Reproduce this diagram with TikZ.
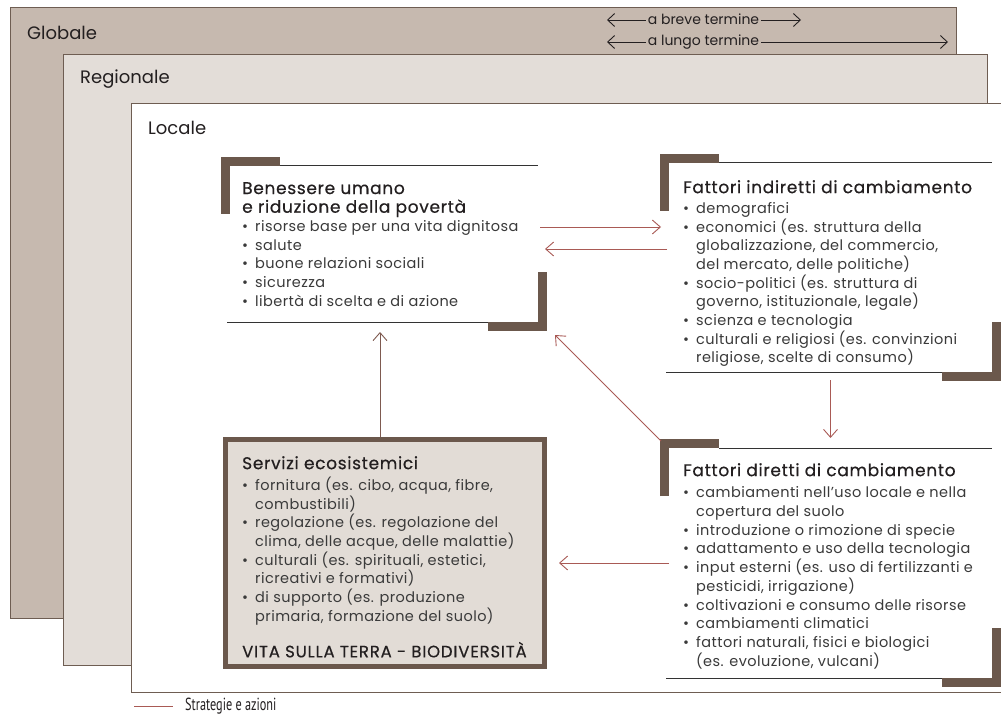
\documentclass[tikz,border=0pt]{standalone}
\usepackage{fontspec}
\setmainfont{Poppins}
\newfontfamily\bodyfont[LetterSpace=3]{Poppins}
\newfontfamily\tfont[FakeBold=0.5,LetterSpace=4]{Poppins}
\newfontfamily\capfont[FakeBold=0.5,LetterSpace=5]{Poppins}
\newfontfamily\condfont[FakeStretch=0.7]{PT Sans}
\usetikzlibrary{arrows.meta,calc}
\definecolor{globfill}{HTML}{C6B9AF}
\definecolor{regfill}{HTML}{E3DDD8}
\definecolor{serfill}{HTML}{E2DCD6}
\definecolor{frame}{HTML}{6E5D52}
\definecolor{brk}{HTML}{6B584C}
\definecolor{redc}{HTML}{A95A55}
\definecolor{brownc}{HTML}{7E5A50}
\definecolor{ink}{HTML}{231F20}
\definecolor{bodyc}{HTML}{3A3A3A}
\definecolor{rulec}{HTML}{333333}
\newcommand{\bul}{\makebox[13pt][l]{•}}
\newcommand{\cnt}{\hspace*{13pt}}
\newcommand{\ttl}[1]{{\tfont\fontsize{17}{18.7}\selectfont\color{ink}#1}}
\tikzset{
  area/.style={inner sep=0pt, outer sep=0pt},
  bracket/.style={draw=brk, line width=9pt, line cap=butt, line join=miter},
  rule/.style={draw=rulec, line width=1pt},
  redarr/.style={draw=redc, line width=0.9pt, -{Straight Barb[length=8pt,width=14pt]}},
  brownarr/.style={draw=brownc, line width=0.9pt, -{Straight Barb[length=8pt,width=14pt]}},
  legarr/.style={draw=ink, line width=0.9pt, -{Straight Barb[length=7pt,width=13pt]}},
  txt/.style={inner sep=0pt, anchor=north west, align=left, text=bodyc, font=\bodyfont\fontsize{14.5}{18.7}\selectfont},
  lvl/.style={inner sep=0pt, anchor=west, text=ink, font=\fontsize{18}{22}\selectfont},
  legtxt/.style={inner sep=2pt, text=ink, font=\fontsize{14}{16}\selectfont},
  levelbox/.style={draw=frame, line width=1pt}
}
\begin{document}
\begin{tikzpicture}[x=1pt,y=-1pt]
\useasboundingbox (0,0) rectangle (1001,714);
\fill[white] (0,0) rectangle (1001,714);
% levels
\filldraw[levelbox, fill=globfill] (10,8) rectangle (956,618);
\filldraw[levelbox, fill=regfill] (63,55) rectangle (987,665);
\filldraw[levelbox, fill=white] (131,104) rectangle (1010,692);
\node[lvl] (glob) at (27,33) {Globale};
\node[lvl] (reg) at (80,79) {Regionale};
\node[lvl] (loc) at (148,128) {Locale};
% time legend
\node[legtxt] (brv) at (703.5,19) {a breve termine};
\node[legtxt] (lng) at (703.5,42) {a lungo termine};
\coordinate (brvL) at (607,20);
\coordinate (brvR) at (801,20);
\coordinate (lngL) at (607,42);
\coordinate (lngR) at (948,42);
\draw[legarr] (brv.west |- brvL) -- (brvL);
\draw[legarr] (brv.east |- brvR) -- (brvR);
\draw[legarr] (lng.west |- lngL) -- (lngL);
\draw[legarr] (lng.east |- lngR) -- (lngR);
% areas
\node[area, minimum width=308pt, minimum height=156pt] (ben) at (384,244) {};
\node[area, minimum width=323pt, minimum height=209pt] (ind) at (830.5,267.5) {};
\node[area, minimum width=323pt, minimum height=230pt] (dir) at (830.5,563) {};
\node[area, draw=brk, line width=5pt, fill=serfill, minimum width=319pt, minimum height=227pt] (ser) at (385,553) {};
% frames of boxes
\foreach \b in {ben,ind,dir}{
  \draw[bracket] ([shift={(-4.5,48)}]\b.north west) -- ([shift={(-4.5,-4.5)}]\b.north west) -- ([shift={(50,-4.5)}]\b.north west);
  \draw[bracket] ([shift={(4.5,-50)}]\b.south east) -- ([shift={(4.5,4.5)}]\b.south east) -- ([shift={(-50,4.5)}]\b.south east);
  \draw[rule] ([shift={(50,0)}]\b.north west) -- (\b.north east);
  \draw[rule] ([shift={(-3,0)}]\b.south west) -- ([shift={(-50,0)}]\b.south east);
}
% texts
\node[txt] (bentxt) at (242,182) {\ttl{Benessere umano}\\
\ttl{e riduzione della povertà}\\
\bul risorse base per una vita dignitosa\\
\bul salute\\
\bul buone relazioni sociali\\
\bul sicurezza\\
\bul libertà di scelta e di azione};
\node[txt] (indtxt) at (683,180) {\ttl{Fattori indiretti di cambiamento}\\[1.5pt]
\bul demografici\\
\bul economici (es. struttura della\\
\cnt globalizzazione, del commercio,\\
\cnt del mercato, delle politiche)\\
\bul socio-politici (es. struttura di\\
\cnt governo, istituzionale, legale)\\
\bul scienza e tecnologia\\
\bul culturali e religiosi (es. convinzioni\\
\cnt religiose, scelte di consumo)};
\node[txt] (dirtxt) at (683,463) {\ttl{Fattori diretti di cambiamento}\\[3pt]
\bul cambiamenti nell’uso locale e nella\\
\cnt copertura del suolo\\
\bul introduzione o rimozione di specie\\
\bul adattamento e uso della tecnologia\\
\bul input esterni (es. uso di fertilizzanti e\\
\cnt pesticidi, irrigazione)\\
\bul coltivazioni e consumo delle risorse\\
\bul cambiamenti climatici\\
\bul fattori naturali, fisici e biologici\\
\cnt (es. evoluzione, vulcani)};
\node[txt] (sertxt) at (242,456) {\ttl{Servizi ecosistemici}\\[2.5pt]
\bul fornitura (es. cibo, acqua, fibre,\\
\cnt combustibili)\\
\bul regolazione (es. regolazione del\\
\cnt clima, delle acque, delle malattie)\\
\bul culturali (es. spirituali, estetici,\\
\cnt ricreativi e formativi)\\
\bul di supporto (es. produzione\\
\cnt primaria, formazione del suolo)\\[16pt]
{\capfont\fontsize{16.5}{18.7}\selectfont\color{ink}VITA SULLA TERRA - BIODIVERSITÀ}};
% connectors
\path ([shift={(2,-17)}]ben.east) coordinate (a1s);
\draw[redarr, shorten >=8pt] (a1s) -- (a1s -| ind.west);
\path ([shift={(0,5)}]ben.east) coordinate (a2e);
\draw[redarr, shorten <=2pt, shorten >=7pt] (a2e -| ind.west) -- (a2e);
\draw[redarr, shorten <=8pt, shorten >=10pt] (ind.south) -- (dir.north);
\draw[redarr] ([shift={(-8,-7)}]dir.north west) -- ([shift={(17,13)}]ben.south east);
\draw[redarr, shorten >=14.5pt] (dir.west) -- (dir.west -| ser.east);
\path ([shift={(-5,0)}]ser.north) coordinate (a6s);
\draw[brownarr, shorten <=2.5pt, shorten >=10pt] (a6s) -- (a6s |- ben.south);
% legend
\node[inner sep=0pt, anchor=west, text=ink, font=\condfont\fontsize{17.5}{20}\selectfont] (leg) at (185,706) {Strategie e azioni};
\coordinate (legL) at (134,706);
\draw[draw=redc, line width=0.8pt] (legL) -- ([xshift=-12pt]leg.west);
\end{tikzpicture}
\end{document}
